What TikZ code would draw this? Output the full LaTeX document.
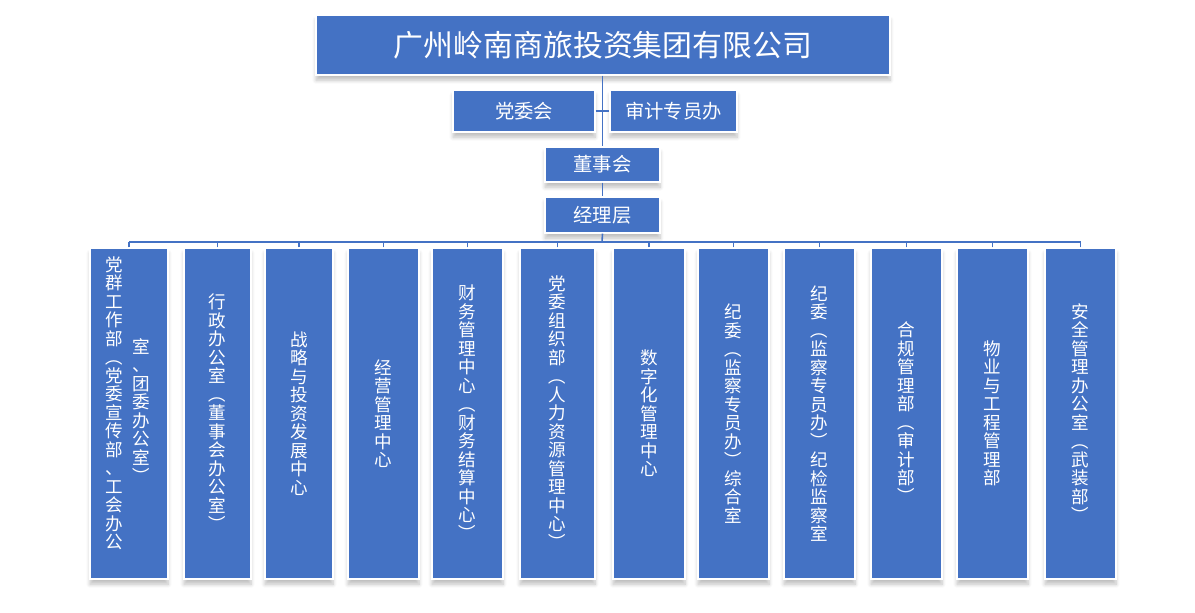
\documentclass[tikz,border=0pt]{standalone}
\usepackage{fontspec}
\setmainfont{Noto Sans CJK SC}
\usepackage{graphicx}
\usetikzlibrary{positioning,shadows.blur}
\definecolor{boxblue}{HTML}{4472C4}
\makeatletter
\newcommand\vstk[1]{\vbox{\baselineskip=0.37cm\@tfor\vc:=#1\do{\hbox to 1em{\hss\vc\hss}}}}
\makeatother
\newcommand\lp{\rotatebox[origin=c]{-90}{（}}
\newcommand\rp{\rotatebox[origin=c]{-90}{）}}
\begin{document}
\begin{tikzpicture}[x=0.02cm,y=-0.02cm,
    org/.style={draw=white,line width=0.8pt,fill=boxblue,text=white,inner sep=0pt,
      blur shadow={shadow blur steps=6,shadow xshift=0pt,shadow yshift=-3pt,shadow opacity=25}},
    link/.style={draw=boxblue,line width=0.9pt}]
  \pgfmathsetlengthmacro{\px}{0.02cm}
  \useasboundingbox (0,0) rectangle (1195,612);

  % top levels
  \node[org,minimum width=574*\px,minimum height=60*\px,font=\fontsize{17}{20}\selectfont] (group) at (603,45) {广州岭南商旅投资集团有限公司};
  \node[org,minimum width=142*\px,minimum height=42*\px,font=\fontsize{11}{13}\selectfont] (party) at (524,111) {党委会};
  \node[org,minimum width=127*\px,minimum height=42*\px,font=\fontsize{11}{13}\selectfont] (audit) at (673.5,111) {审计专员办};
  \node[org,minimum width=115*\px,minimum height=35*\px,font=\fontsize{11}{13}\selectfont] (board) at (602.5,164.5) {董事会};
  \node[org,minimum width=115*\px,minimum height=36*\px,font=\fontsize{11}{13}\selectfont] (mgr) at (602.5,215) {经理层};
  \coordinate (bus) at (602,242);

  \draw[link] (group.south -| board.north) -- (board.north);
  \draw[link] (party.east) -- (audit.west);
  \draw[link] (board) -- (mgr);
  \draw[link] (mgr.south) -- (bus);

  % departments
  \foreach \i/\l/\r/\txt in {
      1/90/168/{},
      2/184/251/{行政办公室{\lp}董事会办公室{\rp}},
      3/265/333/{战略与投资发展中心},
      4/348/419/{经营管理中心},
      5/432/503/{财务管理中心{\lp}财务结算中心{\rp}},
      6/520/595/{党委组织部{\lp}人力资源管理中心{\rp}},
      7/613/685/{数字化管理中心},
      8/698/769/{纪委{\lp}监察专员办{\rp}综合室},
      9/784/855/{纪委{\lp}监察专员办{\rp}纪检监察室},
      10/871/942/{合规管理部{\lp}审计部{\rp}},
      11/957/1028/{物业与工程管理部},
      12/1045/1116/{安全管理办公室{\lp}武装部{\rp}}}{
    \node[org,minimum width=(\r-\l)*\px,minimum height=331*\px,
      font=\fontsize{10}{12}\selectfont] (d\i) at ({(\l+\r)/2},413.5) {\expandafter\vstk\expandafter{\txt}};
    \draw[link] (d\i.north) -- (d\i.north |- bus);
  }
  \node[text=white,font=\fontsize{10}{12}\selectfont,anchor=north,inner sep=0pt] (d1a) at (114,256) {\vstk{党群工作部{\lp}党委宣传部、工会办公}};
  \node[text=white,font=\fontsize{10}{12}\selectfont,anchor=north,inner sep=0pt] (d1b) at (141,338) {\vstk{室、团委办公室{\rp}}};
  \draw[link] (d1.north |- bus) -- (d12.north |- bus);
\end{tikzpicture}
\end{document}
